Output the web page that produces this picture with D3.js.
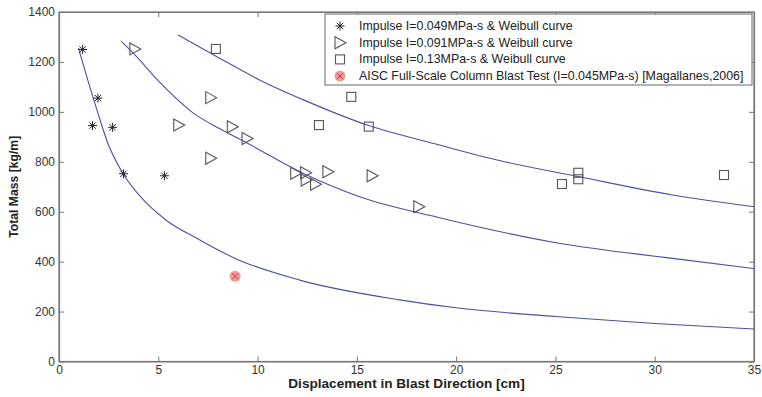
<!DOCTYPE html>
<html><head><meta charset="utf-8">
<script src="https://cdn.jsdelivr.net/npm/d3@7"></script>
<style>
body{margin:0;background:#fff;}
svg{display:block;font-family:Arial,"Liberation Sans",sans-serif;}
</style></head>
<body>
<svg id="chart" width="762" height="397"></svg>
<script>
// ---- data ----
const xTicks = [0,5,10,15,20,25,30,35];
const yTicks = [0,200,400,600,800,1000,1200,1400];

const starX = [1.19,1.96,1.69,2.70,3.25,5.31];
const starY = [1250,1055,945,938,752,744];

const triX = [3.82,7.64,6.03,8.73,9.47,7.64,11.92,12.42,12.45,12.92,13.54,15.77,18.12];
const triY = [1252,1057,947,940,893,814,754,756,727,710,760,744,620];

const sqX = [7.9,13.09,15.6,14.72,25.33,26.15,26.15,33.49];
const sqY = [1252,947,941,1060,711,756,730,747];

const aiscX = [8.87];
const aiscY = [341];

// Weibull curves
const curve1X = [0.98,1.47,1.98,2.48,3.23,4.16,5.33,7.09,8.87,12.12,17.15,20,25,30,35];
const curve1Y = [1255,1122,990,870,752,655,570,487,413,326,247,215,180,152,130];
const curve2X = [3.15,3.74,5.08,6.75,8.1,9.4,12.29,15.14,19.16,25.03,30.9,35];
const curve2Y = [1281,1235,1118,996,932,878,754,660,576,476,413,372];
const curve3X = [6.0,7.93,10.1,12.4,15.6,19.16,22.18,26.2,30.9,35];
const curve3Y = [1308,1222,1128,1045,945,867,805,740,667,620];

const legendLabels = [
  "Impulse I=0.049MPa-s & Weibull curve",
  "Impulse I=0.091MPa-s & Weibull curve",
  "Impulse I=0.13MPa-s & Weibull curve",
  "AISC Full-Scale Column Blast Test (I=0.045MPa-s) [Magallanes,2006]"
];

// ---- layout ----
const L = 59, R = 754, T = 12, B = 361.5;
const svg = d3.select("#chart");
const x = d3.scaleLinear().domain([0,35]).range([L,R]);
const y = d3.scaleLinear().domain([0,1400]).range([B,T]);
const axisColor = "#777";
const textColor = "#333";
const curveColor = "#4f4fa0";

// axes box
svg.append("rect").attr("x",L).attr("y",T).attr("width",R-L).attr("height",B-T)
  .attr("fill","none").attr("stroke",axisColor).attr("stroke-width",1.2);

// bottom & left axes with inward ticks
const xAxis = svg.append("g").attr("transform",`translate(0,${B})`)
  .call(d3.axisBottom(x).tickValues(xTicks).tickFormat(d3.format("d")).tickSizeInner(-5).tickSizeOuter(0).tickPadding(4));
const yAxis = svg.append("g").attr("transform",`translate(${L},0)`)
  .call(d3.axisLeft(y).tickValues(yTicks).tickFormat(d3.format("d")).tickSizeInner(-5).tickSizeOuter(0).tickPadding(4));
// mirrored top & right ticks
const xTop = svg.append("g").attr("transform",`translate(0,${T})`)
  .call(d3.axisTop(x).tickValues(xTicks).tickSizeInner(-5).tickSizeOuter(0).tickFormat(""));
const yRight = svg.append("g").attr("transform",`translate(${R},0)`)
  .call(d3.axisRight(y).tickValues(yTicks).tickSizeInner(-5).tickSizeOuter(0).tickFormat(""));
[xAxis,yAxis,xTop,yRight].forEach(g=>{
  g.select(".domain").attr("stroke",axisColor).attr("stroke-width",1.2);
  g.selectAll(".tick line").attr("stroke",axisColor);
  g.selectAll(".tick text").attr("fill",textColor).attr("font-size",12)
   .attr("font-family","Arial, 'Liberation Sans', sans-serif");
});

// axis titles
svg.append("text").attr("x",(L+R)/2).attr("y",388).attr("text-anchor","middle")
  .attr("font-weight","bold").attr("font-size",13.6).attr("fill","#222")
  .text("Displacement in Blast Direction [cm]");
svg.append("text").attr("transform",`translate(18,${(T+B)/2}) rotate(-90)`)
  .attr("text-anchor","middle").attr("font-weight","bold").attr("font-size",12.2).attr("fill","#222")
  .text("Total Mass [kg/m]");

// curves
const line = d3.line().x(d=>x(d[0])).y(d=>y(d[1])).curve(d3.curveMonotoneX);
[[curve1X,curve1Y],[curve2X,curve2Y],[curve3X,curve3Y]].forEach(([cx,cy])=>{
  svg.append("path").datum(cx.map((v,i)=>[v,cy[i]]))
    .attr("d",line).attr("fill","none").attr("stroke",curveColor).attr("stroke-width",1.1);
});

// marker drawers
function star(g,cx,cy){
  const r=4.5;
  for(let a=0;a<4;a++){
    const ang=a*Math.PI/4;
    g.append("line").attr("x1",cx-r*Math.cos(ang)).attr("y1",cy-r*Math.sin(ang))
      .attr("x2",cx+r*Math.cos(ang)).attr("y2",cy+r*Math.sin(ang))
      .attr("stroke","#222").attr("stroke-width",1);
  }
}
function tri(g,cx,cy){
  g.append("path").attr("d",`M${cx-5},${cy-6}L${cx+6},${cy}L${cx-5},${cy+6}Z`)
    .attr("fill","none").attr("stroke","#555").attr("stroke-width",1.1);
}
function sq(g,cx,cy){
  g.append("rect").attr("x",cx-4.5).attr("y",cy-4.5).attr("width",9).attr("height",9)
    .attr("fill","none").attr("stroke","#555").attr("stroke-width",1.1);
}
function aisc(g,cx,cy){
  g.append("circle").attr("cx",cx).attr("cy",cy).attr("r",5.5).attr("fill","#f09a9a");
  const r=3;
  g.append("path").attr("d",`M${cx-r},${cy-r}L${cx+r},${cy+r}M${cx-r},${cy+r}L${cx+r},${cy-r}`)
    .attr("stroke","#c03c3c").attr("stroke-width",1);
}

const pts = svg.append("g");
starX.forEach((v,i)=>star(pts,x(v),y(starY[i])));
triX.forEach((v,i)=>tri(pts,x(v),y(triY[i])));
sqX.forEach((v,i)=>sq(pts,x(v),y(sqY[i])));
aiscX.forEach((v,i)=>aisc(pts,x(v),y(aiscY[i])));

// legend
const lg = svg.append("g");
lg.append("rect").attr("x",325).attr("y",14).attr("width",427).attr("height",71)
  .attr("fill","#fff").attr("stroke","#666").attr("stroke-width",1);
const drawers=[star,tri,sq,aisc];
legendLabels.forEach((t,i)=>{
  const yy=26+i*16.7;
  drawers[i](lg,340,yy);
  lg.append("text").attr("x",359).attr("y",yy+4).attr("font-size",12.4).attr("fill","#222").text(t);
});
</script>
</body></html>
